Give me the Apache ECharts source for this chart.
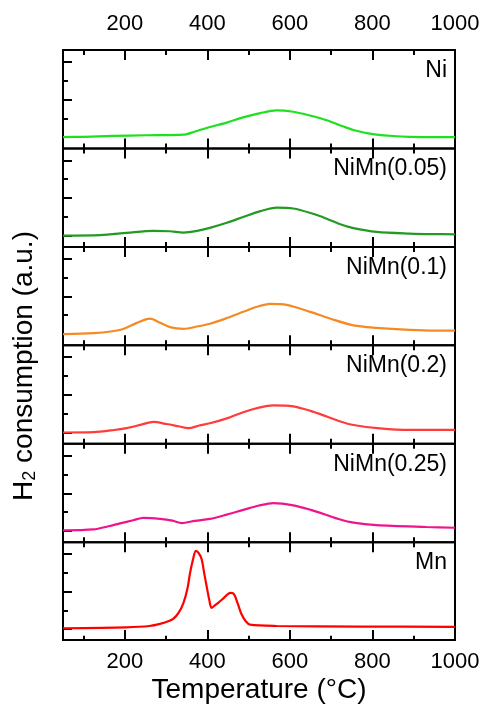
<!DOCTYPE html>
<html>
<head>
<meta charset="utf-8">
<script src="https://cdn.jsdelivr.net/npm/echarts@6/dist/echarts.min.js"></script>
<style>
  html, body { margin: 0; padding: 0; background: #fff; }
  #chart { width: 483px; height: 705px; }
</style>
</head>
<body>
<div id="chart"></div>
<script>
// tick positions
const xMajor = [200, 400, 600, 800, 1000];
const xMinor = [100, 300, 500, 700, 900];
const yMajor = [0, 2, 4];
const yMinor = [1, 3];

const panelNames = ["Ni", "NiMn(0.05)", "NiMn(0.1)", "NiMn(0.2)", "NiMn(0.25)", "Mn"];
const panelColors = ["#1ee01e", "#239b23", "#f58a25", "#ff3b3b", "#f0148c", "#ff0000"];

// H2 consumption (arbitrary units, 1 = one y tick)
const tNi = [50, 100, 172, 250, 342, 370, 406, 447, 486, 528, 567, 608, 648, 689, 728, 754, 790, 810, 850, 890, 950, 1000];
const hNi = [0, 0.02, 0.07, 0.1, 0.13, 0.3, 0.54, 0.77, 1.05, 1.28, 1.42, 1.35, 1.15, 0.9, 0.58, 0.38, 0.2, 0.13, 0.06, 0.02, 0, 0];

const tNiMn005 = [50, 140, 204, 269, 309, 342, 375, 406, 447, 487, 528, 568, 608, 650, 689, 720, 754, 810, 891, 950, 1000];
const hNiMn005 = [0, 0.03, 0.14, 0.25, 0.23, 0.16, 0.25, 0.41, 0.68, 0.99, 1.3, 1.49, 1.44, 1.2, 0.9, 0.62, 0.4, 0.2, 0.11, 0.08, 0.07];

const tNiMn01 = [50, 124, 170, 196, 228, 261, 285, 309, 342, 375, 406, 447, 487, 520, 552, 592, 649, 700, 754, 810, 891, 950, 1000];
const hNiMn01 = [0, 0.05, 0.15, 0.27, 0.58, 0.82, 0.6, 0.37, 0.28, 0.4, 0.55, 0.85, 1.18, 1.45, 1.6, 1.55, 1.18, 0.8, 0.46, 0.33, 0.22, 0.18, 0.18];

const tNiMn02 = [50, 124, 170, 204, 240, 269, 301, 330, 354, 380, 406, 447, 487, 525, 560, 608, 650, 689, 720, 754, 818, 891, 1000];
const hNiMn02 = [0, 0.02, 0.12, 0.23, 0.42, 0.56, 0.45, 0.33, 0.23, 0.37, 0.49, 0.75, 1.08, 1.32, 1.44, 1.39, 1.15, 0.85, 0.6, 0.4, 0.22, 0.14, 0.14];

const tNiMn025 = [50, 124, 160, 188, 220, 245, 285, 315, 338, 370, 406, 447, 487, 525, 560, 608, 650, 689, 720, 754, 810, 931, 1000];
const hNiMn025 = [0.03, 0.08, 0.25, 0.4, 0.57, 0.69, 0.64, 0.55, 0.42, 0.54, 0.64, 0.87, 1.12, 1.35, 1.48, 1.36, 1.12, 0.85, 0.62, 0.44, 0.31, 0.21, 0.17];

const tMn = [50, 204, 260, 285, 305, 317, 330, 342, 352, 358, 365, 372, 379, 386, 392, 398, 404, 410, 418, 426, 440, 455, 462, 467, 475, 483, 493, 503, 568, 770, 1000];
const hMn = [0.03, 0.08, 0.15, 0.26, 0.4, 0.53, 0.85, 1.39, 2.2, 3.0, 3.7, 4.17, 4.05, 3.72, 3.0, 2.29, 1.6, 1.12, 1.25, 1.39, 1.65, 1.92, 1.9, 1.74, 1.25, 0.76, 0.4, 0.22, 0.15, 0.12, 0.1];

const seriesT = [tNi, tNiMn005, tNiMn01, tNiMn02, tNiMn025, tMn];
const seriesH = [hNi, hNiMn005, hNiMn01, hNiMn02, hNiMn025, hMn];

const FONT = "Liberation Sans";
const panelTop = 50;
const panelH = 98.45;
const nPanels = panelNames.length;

const chart = echarts.init(document.getElementById("chart"));

function xAxisDef(g, pos, ticks, len, withLabels) {
  return {
    gridIndex: g,
    type: "value",
    position: pos,
    min: 50,
    max: 1000,
    axisLine: { show: false, onZero: false },
    axisTick: { show: true, inside: true, length: len, customValues: ticks, lineStyle: { color: "#000", width: 2 } },
    axisLabel: {
      show: withLabels,
      customValues: xMajor,
      formatter: (v) => String(v),
      color: "#000",
      fontSize: 22,
      fontFamily: FONT,
      margin: pos === "top" ? 15 : 11,
    },
    splitLine: { show: false },
  };
}

function yAxisDef(g, ticks, len) {
  return {
    gridIndex: g,
    type: "value",
    position: "left",
    min: -0.6,
    max: 4.63,
    axisLine: { show: false, onZero: false },
    axisTick: { show: true, inside: true, length: len, customValues: ticks, lineStyle: { color: "#000", width: 2 } },
    axisLabel: { show: false },
    splitLine: { show: false },
  };
}

const grids = [], xAxes = [], yAxes = [], series = [], texts = [];

// grids 0..5: data + frame + major ticks; grids 6..11: same boxes, minor ticks only
for (let layer = 0; layer < 2; layer++) {
  panelNames.forEach((name, i) => {
    const g = layer * nPanels + i;
    const top = panelTop + i * panelH;
    grids.push({
      left: 63, right: 28, top: top, height: panelH,
      show: layer === 0, borderColor: "#000", borderWidth: 2, backgroundColor: "transparent",
    });
    if (layer === 0) {
      xAxes.push(xAxisDef(g, "bottom", xMajor, 10, i === nPanels - 1));
      xAxes.push(xAxisDef(g, "top", xMajor, 10, i === 0));
      yAxes.push(yAxisDef(g, yMajor, 9));
    } else {
      xAxes.push(xAxisDef(g, "bottom", xMinor, 5, false));
      xAxes.push(xAxisDef(g, "top", xMinor, 5, false));
      yAxes.push(yAxisDef(g, yMinor, 5));
    }
  });
}

panelNames.forEach((name, i) => {
  const top = panelTop + i * panelH;
  series.push({
    name: name,
    type: "line",
    xAxisIndex: i * 2,
    yAxisIndex: i,
    data: seriesT[i].map((t, k) => [t, seriesH[i][k]]),
    smooth: 0.3,
    symbol: "none",
    lineStyle: { color: panelColors[i], width: 2.2 },
  });

  texts.push({
    type: "text",
    right: 483 - 447,
    top: top + 9,
    style: { text: name, fill: "#000", font: `23px "${FONT}"` },
  });
});

// x axis title on the bottom axis of the last panel
const lastBottom = xAxes[(nPanels - 1) * 2];
lastBottom.name = "Temperature (°C)";
lastBottom.nameLocation = "middle";
lastBottom.nameGap = 36;
lastBottom.nameTextStyle = { color: "#000", fontSize: 28, fontFamily: FONT };

// y axis title (rotated, with subscript)
texts.push({
  type: "text",
  x: 24,
  y: 366,
  rotation: Math.PI / 2,
  style: {
    text: "{a|H}{s|2}{a| consumption (a.u.)}",
    align: "center",
    verticalAlign: "middle",
    rich: {
      a: { fontSize: 28, fontFamily: FONT, fill: "#000", lineHeight: 30 },
      s: { fontSize: 18, fontFamily: FONT, fill: "#000", verticalAlign: "bottom", lineHeight: 30, padding: [12, 0, 0, 0] },
    },
  },
});

chart.setOption({
  backgroundColor: "#fff",
  animation: false,
  grid: grids,
  xAxis: xAxes,
  yAxis: yAxes,
  series: series,
  graphic: texts,
});
</script>
</body>
</html>
